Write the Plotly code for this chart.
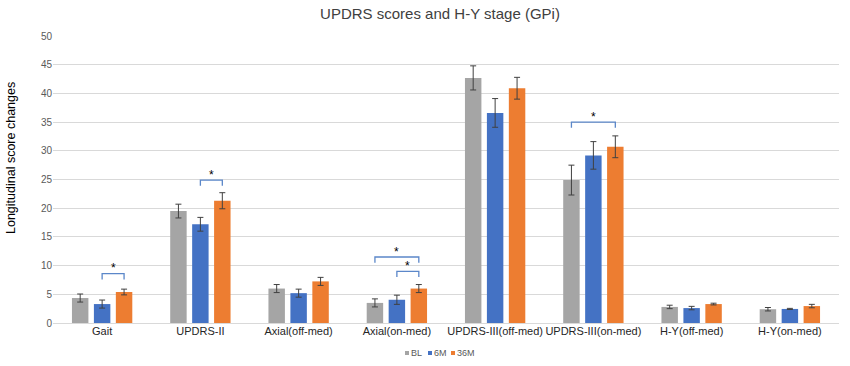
import plotly.graph_objects as go

categories = ["Gait", "UPDRS-II", "Axial(off-med)", "Axial(on-med)",
              "UPDRS-III(off-med)", "UPDRS-III(on-med)", "H-Y(off-med)", "H-Y(on-med)"]
series_names = ["BL", "6M", "36M"]
bl = [4.35, 19.5, 6.0, 3.5, 42.7, 24.9, 2.8, 2.4]
m6 = [3.3, 17.2, 5.2, 4.05, 36.6, 29.2, 2.6, 2.45]
m36 = [5.4, 21.3, 7.25, 6.0, 40.9, 30.7, 3.3, 2.95]
bl_err = [0.7, 1.2, 0.7, 0.7, 2.1, 2.6, 0.3, 0.3]
m6_err = [0.7, 1.2, 0.7, 0.8, 2.5, 2.4, 0.3, 0.1]
m36_err = [0.5, 1.4, 0.7, 0.7, 1.9, 1.9, 0.15, 0.3]
colors = ["#A5A5A5", "#4472C4", "#ED7D31"]
yticks = [0, 5, 10, 15, 20, 25, 30, 35, 40, 45, 50]

# significance brackets: (category index, from series, to series, bracket height)
sig_cat = [0, 1, 3, 3, 5]
sig_from = [1, 1, 0, 1, 0]
sig_to = [2, 2, 2, 2, 2]
sig_y = [8.6, 24.9, 11.5, 9.0, 35.0]

FONT = "Liberation Sans, Arial, sans-serif"
W, H = 850, 366
ML, MR, MT, MB = 53, 11, 36, 43
bargap = 0.33
bargroupgap = 0.25

fig = go.Figure()
xs = list(range(len(categories)))
for name, vals, errs, col in zip(series_names, [bl, m6, m36], [bl_err, m6_err, m36_err], colors):
    fig.add_trace(go.Bar(
        x=xs, y=vals, name=name, marker=dict(color=col, line=dict(width=0)),
        error_y=dict(type="data", array=errs, visible=True, color="#404040",
                     thickness=1, width=3),
        showlegend=False,
    ))

slot = (1 - bargap) / len(series_names)
def xpos(ci, si):
    return ci + (si - (len(series_names) - 1) / 2) * slot

shapes = []
annotations = []
for ci, a, b, yv in zip(sig_cat, sig_from, sig_to, sig_y):
    x0, x1 = xpos(ci, a), xpos(ci, b)
    leg = 1.0
    shapes.append(dict(type="path", xref="x", yref="y",
                       path=f"M {x0},{yv-leg} L {x0},{yv} L {x1},{yv} L {x1},{yv-leg}",
                       line=dict(color="#5B87C9", width=1.3)))
    annotations.append(dict(x=(x0 + x1) / 2, y=yv + 0.9, xref="x", yref="y",
                            text="*", showarrow=False,
                            font=dict(size=12, color="#000000", family=FONT)))

# compact legend (pixel layout converted to paper coords)
pw, ph = W - ML - MR, H - MT - MB
def px(xp):
    return (xp - ML) / pw
def py(yp):
    return (H - MB - yp) / ph
leg_x = [405, 428, 451]
leg_y = 353
for lx, name, col in zip(leg_x, series_names, colors):
    shapes.append(dict(type="rect", xref="paper", yref="paper",
                       x0=px(lx), x1=px(lx + 4), y0=py(leg_y + 2), y1=py(leg_y - 2),
                       fillcolor=col, line=dict(width=0)))
    annotations.append(dict(x=px(lx + 4), y=py(leg_y), xref="paper", yref="paper",
                            xanchor="left", yanchor="middle", text=name, showarrow=False,
                            font=dict(size=9, color="#595959", family=FONT)))

# y-axis title
annotations.append(dict(x=px(11), y=py(158), xref="paper", yref="paper",
                        xanchor="center", yanchor="middle", textangle=-90,
                        text="Longitudinal score changes", showarrow=False,
                        font=dict(size=12.5, color="#000000", family=FONT)))

fig.update_layout(
    width=W, height=H,
    paper_bgcolor="white", plot_bgcolor="white",
    margin=dict(l=ML, r=MR, t=MT, b=MB, autoexpand=False),
    barmode="group", bargap=bargap, bargroupgap=bargroupgap,
    title=dict(text="UPDRS scores and H-Y stage (GPi)", x=440 / W, xanchor="center",
               xref="container", y=1 - 14 / H, yanchor="middle", yref="container",
               font=dict(size=15, color="#404040", family=FONT)),
    font=dict(family=FONT, color="#404040"),
    showlegend=False,
    shapes=shapes, annotations=annotations,
)
fig.update_xaxes(
    tickmode="array", tickvals=xs, ticktext=categories, tickangle=0,
    range=[-0.5, len(categories) - 0.5], automargin=False,
    showgrid=False, zeroline=False, showline=False, ticks="",
    tickfont=dict(size=11, color="#262626", family=FONT),
)
fig.update_yaxes(
    range=[0, 50], tickvals=yticks, showgrid=True, gridcolor="#D9D9D9", gridwidth=1,
    zeroline=True, zerolinecolor="#D9D9D9", zerolinewidth=1,
    showline=False, ticks="", automargin=False,
    tickfont=dict(size=10, color="#595959", family=FONT),
)

fig.write_html("out.html", config={"displayModeBar": False},
               post_script="document.body.style.margin='0';document.body.style.overflow='hidden';")
